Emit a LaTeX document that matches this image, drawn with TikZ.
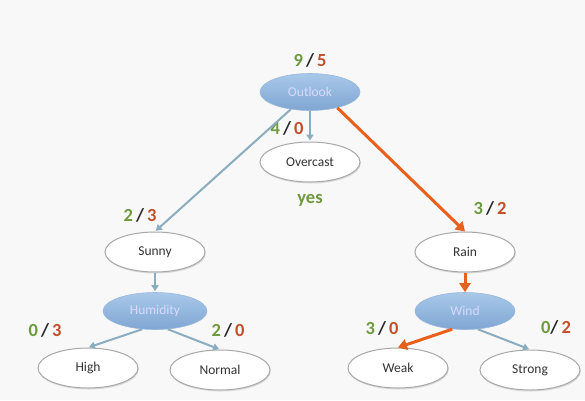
\documentclass[tikz,border=0pt]{standalone}
\usepackage{fontspec}
\setmainfont{Carlito}
\usetikzlibrary{shapes.geometric,arrows.meta,shadows}
\definecolor{bgc}{HTML}{F8F8F8}
\definecolor{numg}{HTML}{6E9A3E}
\definecolor{numr}{HTML}{C0502A}
\definecolor{arrg}{HTML}{8AAEC0}
\definecolor{arro}{HTML}{E8601C}
\definecolor{bluetop}{HTML}{A9C8EA}
\definecolor{bluebot}{HTML}{7FA6D2}
\definecolor{ringc}{HTML}{A8A8A8}
\tikzset{
  leafbox/.style={ellipse, draw=ringc, line width=1pt, fill=white, minimum width=100pt, minimum height=40pt, inner sep=0pt, font=\fontsize{13.5}{15}\selectfont, text=black!80, drop shadow={shadow xshift=0.8pt, shadow yshift=-1.5pt, opacity=0.25}},
  attrbox/.style={ellipse, draw=bluebot!80!white, line width=0.6pt, top color=bluetop, bottom color=bluebot, minimum width=100pt, minimum height=37pt, inner sep=0pt, font=\fontsize{13.5}{15}\selectfont, text=white!85!blue},
  grayarrow/.style={-{Triangle[length=6pt,width=7pt]}, draw=arrg, line width=2pt, shorten >=1pt},
  orangearrow/.style={-{Triangle[length=9pt,width=11pt]}, draw=arro, line width=3pt},
  countlbl/.style={font=\fontsize{18.5}{20}\selectfont\bfseries, inner sep=0pt}
}
\newcommand{\cnt}[2]{\textcolor{numg}{#1}\,\textcolor{black!85}{/}\,\textcolor{numr}{#2}}
\begin{document}
\begin{tikzpicture}[x=1pt,y=-1pt]
\fill[bgc] (0,0) rectangle (585,400);
\useasboundingbox (0,0) rectangle (585,400);

\node[attrbox] (outlook) at (310,92) {Outlook};
\node[leafbox] (overcast) at (310,162) {Overcast};
\node[leafbox] (sunny) at (155,252) {Sunny};
\node[attrbox, minimum width=104pt] (humidity) at (155,311) {Humidity};
\node[leafbox] (high) at (88,368) {High};
\node[leafbox] (normal) at (220,370) {Normal};
\node[leafbox] (rain) at (465,252) {Rain};
\node[attrbox] (wind) at (465,311) {Wind};
\node[leafbox] (weak) at (398,368) {Weak};
\node[leafbox] (strong) at (530,370) {Strong};

\node[countlbl] (c1) at (310,60) {\cnt{9}{5}};
\node[countlbl] (c2) at (287,128) {\cnt{4}{0}};
\node[font=\fontsize{18.5}{20}\selectfont\bfseries, text=numg] (yes) at (310,200) {yes};
\node[countlbl] (c3) at (140,215) {\cnt{2}{3}};
\node[countlbl] (c4) at (490,208) {\cnt{3}{2}};
\node[countlbl] (c5) at (45,330) {\cnt{0}{3}};
\node[countlbl] (c6) at (228,330) {\cnt{2}{0}};
\node[countlbl] (c7) at (382,328) {\cnt{3}{0}};
\node[countlbl] (c8) at (556,327) {\textcolor{numg}{0}\textcolor{black!85}{/}\,\textcolor{numr}{2}};

\draw[grayarrow] (outlook.222) -- (sunny.north);
\draw[grayarrow] (outlook.south) -- (overcast.north);
\draw[orangearrow] (outlook.330) -- (rain.north);
\draw[grayarrow] (sunny.south) -- (humidity.north);
\draw[grayarrow] (humidity.235) -- (high.north);
\draw[grayarrow] (humidity.305) -- (normal.north);
\draw[orangearrow] (rain.south) -- (wind.north);
\draw[orangearrow] (wind.235) -- (weak.north);
\draw[grayarrow] (wind.305) -- (strong.north);
\end{tikzpicture}
\end{document}
